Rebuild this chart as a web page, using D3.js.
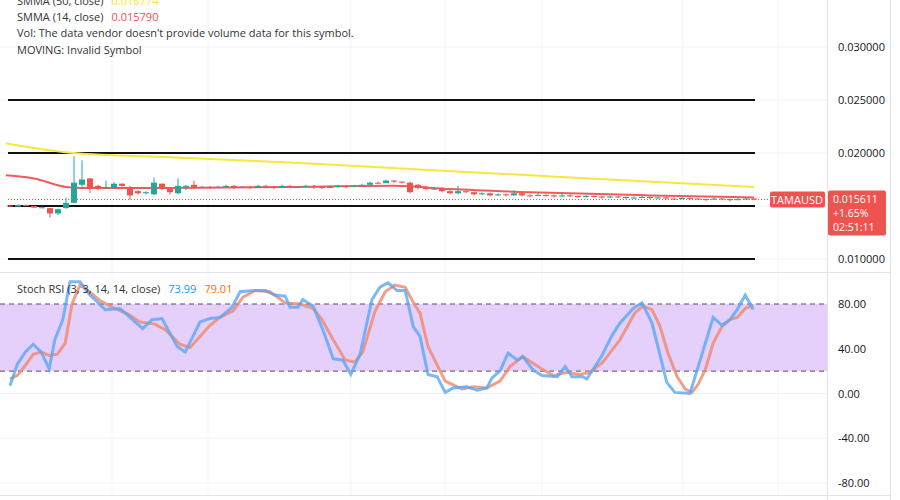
<!DOCTYPE html>
<html><head><meta charset="utf-8">
<script src="https://cdn.jsdelivr.net/npm/d3@7"></script>
<style>body{margin:0;background:#fff}svg{display:block;font-family:"Open Sans",Roboto,sans-serif}</style>
</head><body><svg id="c" width="900" height="500"></svg>
<script>
// ---- data ----
const opens  = [.01505,.01495,.01510,.01500,.01485,.01480,.01430,.01480,.01530,.01700,.01760,.01690,.01670,.01670,.01710,.01680,.01640,.01620,.01610,.01710,.01660,.01620,.01680,.01700,
 .01670,.01680,.01670,.01680,.01690,.01670,.01680,.01670,.01690,.01680,.01670,.01690,.01680,.01680,.01690,.01680,.01670,.01680,.01690,.01680,.01690,.01700,.01720,.01715,.01740,.01730,
 .01720,.01700,.01670,.01660,.01665,.01640,.01620,.01640,.01630,.01610,.01620,.01600,.01610,.01600,.01620,.01600,.01595,.01605,.01600,.01590,.01600,.01595,.01585,.01595,.01590,.01580,
 .01590,.01585,.01575,.01580,.01585,.01575,.01580,.01570,.01565,.01575,.01570,.01565,.01560,.01570,.01565,.01555,.01565,.01570];
const closes = [.01495,.01510,.01500,.01485,.01488,.01430,.01470,.01530,.01720,.01750,.01670,.01660,.01680,.01710,.01690,.01600,.01620,.01630,.01720,.01660,.01630,.01690,.01690,.01670,
 .01680,.01670,.01680,.01690,.01670,.01680,.01670,.01690,.01680,.01670,.01690,.01680,.01680,.01690,.01680,.01670,.01680,.01690,.01680,.01690,.01700,.01720,.01715,.01740,.01730,.01720,
 .01630,.01670,.01660,.01665,.01640,.01620,.01640,.01630,.01610,.01620,.01600,.01610,.01600,.01620,.01600,.01595,.01605,.01600,.01590,.01600,.01595,.01585,.01595,.01590,.01580,.01590,
 .01585,.01575,.01580,.01585,.01575,.01580,.01570,.01565,.01575,.01570,.01565,.01560,.01570,.01565,.01555,.01565,.01570,.015611];
const highs  = [.01510,.01515,.01512,.01502,.01495,.01482,.01475,.01580,.01970,.01930,.01765,.01700,.01740,.01725,.01715,.01690,.01650,.01640,.01770,.01715,.01665,.01760,.01700,.01740,
 .01690,.01690,.01690,.01700,.01700,.01690,.01690,.01700,.01700,.01690,.01700,.01700,.01690,.01700,.01700,.01690,.01690,.01700,.01700,.01700,.01710,.01730,.01730,.01750,.01745,.01730,
 .01730,.01710,.01690,.01680,.01675,.01650,.01690,.01645,.01635,.01630,.01625,.01620,.01620,.01650,.01625,.01610,.01625,.01610,.01610,.01615,.01610,.01600,.01605,.01600,.01595,.01600,
 .01595,.01590,.01590,.01595,.01590,.01590,.01585,.01580,.01585,.01580,.01575,.01570,.01580,.01575,.01570,.01575,.01580,.01580];
const lows   = [.01490,.01490,.01495,.01480,.01480,.01390,.01415,.01475,.01525,.01680,.01620,.01650,.01660,.01660,.01680,.01560,.01610,.01610,.01605,.01650,.01610,.01610,.01650,.01660,
 .01670,.01660,.01670,.01675,.01660,.01670,.01660,.01675,.01670,.01660,.01675,.01670,.01670,.01675,.01660,.01660,.01670,.01675,.01670,.01680,.01690,.01705,.01705,.01720,.01715,.01710,
 .01620,.01655,.01650,.01650,.01630,.01610,.01610,.01620,.01600,.01605,.01590,.01595,.01590,.01600,.01590,.01585,.01595,.01590,.01580,.01585,.01585,.01575,.01580,.01580,.01570,.01575,
 .01575,.01565,.01570,.01575,.01565,.01570,.01560,.01555,.01565,.01560,.01555,.01550,.01560,.01555,.01545,.01555,.01560,.01555];
const smma50 = [[-0.5,.0209],[8,.0200],[20,.0196],[35,.0191],[50,.0185],[70,.0177],[93,.0168]];
const smma14 = [[-0.5,.0179],[3,.0176],[7,.0168],[9,.0167],[20,.0167],[35,.0168],[48,.0169],[55,.0166],[65,.0163],[80,.0160],[93,.0158]];
const hLevels = [.025,.020,.0150,.010];
const priceTicks = [.030,.025,.020,.010];
const priceGrid = [.030,.025,.020,.015,.010];
const stochK = [[0,7],[0.9,26],[1.9,37],[2.9,44],[3.9,37],[4.9,22],[5.6,48],[6.6,66],[7.5,100],[8.75,100],[10,88],[11.9,75],[13.75,76],[15,68],[16.6,58],[17.75,66],[19,67],[20.9,42],[21.9,37],[23.75,64],[25,67],[26.25,68],[27.75,77],[28.75,91],[30.6,92],[31.9,92],[33.1,88],[34.4,87],[35,77],[36,77],[36.6,84],[37.9,78],[39.1,57],[40.4,31],[41.6,30],[42.6,17],[43.75,35],[45.25,84],[46.25,95],[47.25,99],[48.4,92],[49.4,92],[50.4,60],
 [51.25,51],[52.25,17],[53.4,15],[54.4,1],[55.4,5],[57.1,6],[58.4,3],[59.6,5],[60.25,14],[61.25,20],[62.25,36],[63.4,30],[64.1,33],[65.4,21],[66.5,16],[68.4,15],[69.4,24],[70.25,15],[71.6,15],[72.1,13],[74,34],[75.25,52],[76.25,63],[77.9,76],[79,81],
 [80.25,63],[82.1,10],[83.1,1],[85,0],[87.9,68],[89,61],[90,66],[90.9,75],[91.9,88],[92.9,75]];
const stochD = [[0,13],[0.9,16],[1.9,25],[2.9,35],[3.9,37],[4.9,34],[5.9,35],[6.9,45],[7.75,80],[8.75,97],[9.75,92],[11.25,83],[13.1,76],[14.75,71],[16.25,64],[18.1,62],[19.4,57],[21.25,44],[22.5,41],[23.75,51],[25,61],[26.25,68],[27.9,74],[29.1,86],[30.6,92],[32.5,91],[34.4,81],[36.25,80],[37.9,76],[39,66],[40.4,48],[41.9,30],[43.1,28],[44.1,37],[45.6,73],[46.9,91],[48.1,97],[49.4,95],[50.6,79],
 [51.25,72],[52.25,42],[54.4,11],[56.5,4],[57.9,6],[59.6,5],[61.25,11],[62.5,24],[64.1,33],[66.25,23],[67.9,16],[69.6,19],[71.25,17],[72.5,19],[74.1,28],[76.25,48],[78.1,72],[79.1,78],[80.25,75],[81.25,60],[82.25,36],[83.4,15],[84.4,4],[85.25,1],[86,8],[86.9,21],[87.9,45],[89,60],[90,66],[90.9,68],[91.9,76],[92.9,79]];
const stochTicks = [80,40,0,-40,-80];
const legend = [["SMMA (50, close)","0.016774","#f5e43a"],["SMMA (14, close)","0.015790","#f05050"]];
const vGrid = [12.75,24.75,42.6,54.4,66.5,84.1,96];

// ---- drawing ----
const svg = d3.select("#c");
const x = d3.scaleLinear().domain([0,93]).range([10,754]);
const y = d3.scaleLinear().domain([0.010,0.030]).range([259,47]);
const ys = d3.scaleLinear().domain([-80,80]).range([483,304]);
const grid="#f0f3fa";
svg.selectAll(".vg").data(vGrid).join("line").attr("x1",d=>x(d)).attr("x2",d=>x(d)).attr("y1",0).attr("y2",495).attr("stroke",grid);
svg.selectAll(".hg").data(priceGrid).join("line").attr("x1",0).attr("x2",827).attr("y1",d=>y(d)).attr("y2",d=>y(d)).attr("stroke",grid);
svg.selectAll(".hs").data(stochTicks).join("line").attr("x1",0).attr("x2",827).attr("y1",d=>ys(d)).attr("y2",d=>ys(d)).attr("stroke",grid);
svg.append("line").attr("x1",0).attr("x2",890).attr("y1",272.5).attr("y2",272.5).attr("stroke","#e0e3eb");
svg.append("line").attr("x1",0).attr("x2",890).attr("y1",495.5).attr("y2",495.5).attr("stroke","#e0e3eb");
svg.append("line").attr("x1",827.5).attr("x2",827.5).attr("y1",0).attr("y2",500).attr("stroke","#e0e3eb");
svg.append("line").attr("x1",890.5).attr("x2",890.5).attr("y1",0).attr("y2",500).attr("stroke","#e0e3eb");
svg.selectAll(".lv").data(hLevels).join("line").attr("x1",8).attr("x2",755).attr("y1",d=>y(d)).attr("y2",d=>y(d)).attr("stroke","#111").attr("stroke-width",2);
const ln = d3.line().x(d=>x(d[0])).y(d=>y(d[1])).curve(d3.curveMonotoneX);
svg.append("path").attr("d",ln(smma50)).attr("fill","none").attr("stroke","#f8e73c").attr("stroke-width",2);
svg.append("path").attr("d",ln(smma14)).attr("fill","none").attr("stroke","#f25a5a").attr("stroke-width",2);
const idx = d3.range(closes.length);
const col = i=>closes[i]>=opens[i]?"#26a69a":"#ef5350";
svg.selectAll(".wk").data(idx).join("line").attr("x1",i=>x(i)).attr("x2",i=>x(i)).attr("y1",i=>y(highs[i])).attr("y2",i=>y(lows[i])).attr("stroke",col);
svg.selectAll(".bd").data(idx).join("rect").attr("x",i=>x(i)-3).attr("width",6)
  .attr("y",i=>y(Math.max(opens[i],closes[i]))).attr("height",i=>Math.max(1,Math.abs(y(opens[i])-y(closes[i])))).attr("fill",col);
const last = closes[closes.length-1];
svg.append("line").attr("x1",8).attr("x2",770).attr("y1",y(last)).attr("y2",y(last)).attr("stroke","#ef5350").attr("stroke-dasharray","1,2");
svg.selectAll(".pt").data(priceTicks).join("text").attr("x",838).attr("y",d=>y(d)+4).attr("font-size",11).attr("fill","#131722").text(d=>d.toFixed(6));
svg.append("rect").attr("x",770).attr("y",y(last)-8).attr("width",55).attr("height",16).attr("rx",2).attr("fill","#ef5350");
svg.append("text").attr("x",797).attr("y",y(last)+4).attr("text-anchor","middle").attr("font-size",11).attr("fill","#fff").text("TAMAUSD");
svg.append("rect").attr("x",828).attr("y",y(last)-9).attr("width",58).attr("height",45).attr("rx",2).attr("fill","#ef5350");
["0.015611","+1.65%","02:51:11"].forEach((t,k)=>svg.append("text").attr("x",833).attr("y",y(last)+3+k*14).attr("font-size",10.5).attr("fill","#fff").text(t));
legend.forEach((l,k)=>{const t=svg.append("text").attr("x",17).attr("y",5+k*16).attr("font-size",11).attr("fill","#333");
  t.append("tspan").text(l[0]); t.append("tspan").attr("dx",8).attr("fill",l[2]).text(l[1]);});
svg.append("text").attr("x",17).attr("y",37).attr("font-size",11).attr("fill","#333").text("Vol: The data vendor doesn't provide volume data for this symbol.");
svg.append("text").attr("x",17).attr("y",54).attr("font-size",11).attr("fill","#333").text("MOVING: Invalid Symbol");
svg.append("rect").attr("x",0).attr("y",ys(80)).attr("width",827).attr("height",ys(20)-ys(80)).attr("fill","#e1c8fb").attr("opacity",0.85);
[80,20].forEach(v=>svg.append("line").attr("x1",0).attr("x2",827).attr("y1",ys(v)).attr("y2",ys(v)).attr("stroke","#555").attr("stroke-dasharray","5,4"));
const sl = d3.line().x(d=>x(d[0])).y(d=>ys(d[1]));
svg.append("path").attr("d",sl(stochD)).attr("fill","none").attr("stroke","#f0876a").attr("stroke-width",3).attr("opacity",0.8);
svg.append("path").attr("d",sl(stochK)).attr("fill","none").attr("stroke","#5aa6f5").attr("stroke-width",3).attr("opacity",0.8);
svg.selectAll(".st").data(stochTicks).join("text").attr("x",838).attr("y",d=>ys(d)+4).attr("font-size",11).attr("fill","#131722").text(d=>d.toFixed(2));
const sL = svg.append("text").attr("x",17).attr("y",293).attr("font-size",11).attr("fill","#333");
sL.append("tspan").text("Stoch RSI (3, 3, 14, 14, close)");
sL.append("tspan").attr("dx",8).attr("fill","#2196f3").text("73.99");
sL.append("tspan").attr("dx",8).attr("fill","#ff6d00").text("79.01");
</script></body></html>
